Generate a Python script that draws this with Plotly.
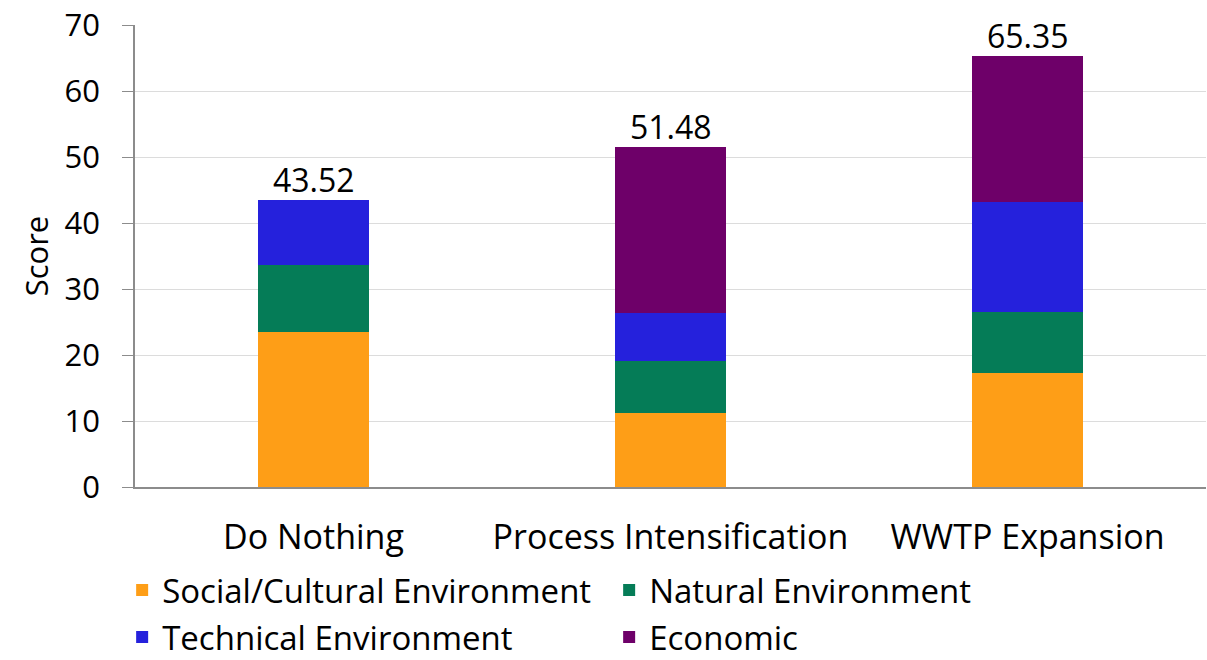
import plotly.graph_objects as go

categories = ["Do Nothing", "Process Intensification", "WWTP Expansion"]
social = [23.45, 11.17, 17.34]
natural = [10.16, 7.89, 9.19]
technical = [9.91, 7.32, 16.59]
economic = [0.0, 25.10, 22.23]
totals = [43.52, 51.48, 65.35]
y_ticks = [0, 10, 20, 30, 40, 50, 60, 70]

FONT = "Open Sans"
TFS = 31

series = [
    ("Social/Cultural Environment", social, "#FE9E17", "legend"),
    ("Natural Environment", natural, "#057C57", "legend"),
    ("Technical Environment", technical, "#2521DC", "legend2"),
    ("Economic", economic, "#6E0069", "legend2"),
]

fig = go.Figure()
for name, vals, color, lg in series:
    fig.add_trace(go.Bar(
        x=categories, y=vals, name=name, marker=dict(color=color, line=dict(width=0)),
        legend=lg, width=0.313,
    ))

for c, t in zip(categories, totals):
    fig.add_annotation(x=c, y=t, text=f"{t:.2f}", showarrow=False, yanchor="bottom",
                       yshift=-3, font=dict(family=FONT, size=32, color="#000000"))

legend_common = dict(orientation="h", x=-0.012, xanchor="left", yanchor="middle",
                     entrywidth=442, entrywidthmode="pixels", font=dict(size=33),
                     bgcolor="rgba(0,0,0,0)", traceorder="normal")

fig.update_layout(
    barmode="stack",
    width=1207, height=660,
    margin=dict(l=135, r=1, t=25, b=173, autoexpand=False),
    plot_bgcolor="white", paper_bgcolor="white",
    font=dict(family=FONT, size=33, color="#000000"),
    legend=dict(y=-0.223, **legend_common),
    legend2=dict(y=-0.325, **legend_common),
    xaxis=dict(showline=True, linecolor="#8C8C8C", linewidth=1.5, ticks="",
               tickfont=dict(size=34), ticklabelstandoff=19),
    yaxis=dict(range=[0, 70], tickvals=y_ticks, showgrid=True, gridcolor="#DCDCDC",
               gridwidth=1, showline=True, linecolor="#8C8C8C", linewidth=1.5,
               ticks="outside", ticklen=11, tickcolor="#8C8C8C",
               tickfont=dict(size=TFS), ticklabelstandoff=16,
               title=dict(text="Score", font=dict(size=TFS), standoff=7)),
)

fig.write_html("out.html")
